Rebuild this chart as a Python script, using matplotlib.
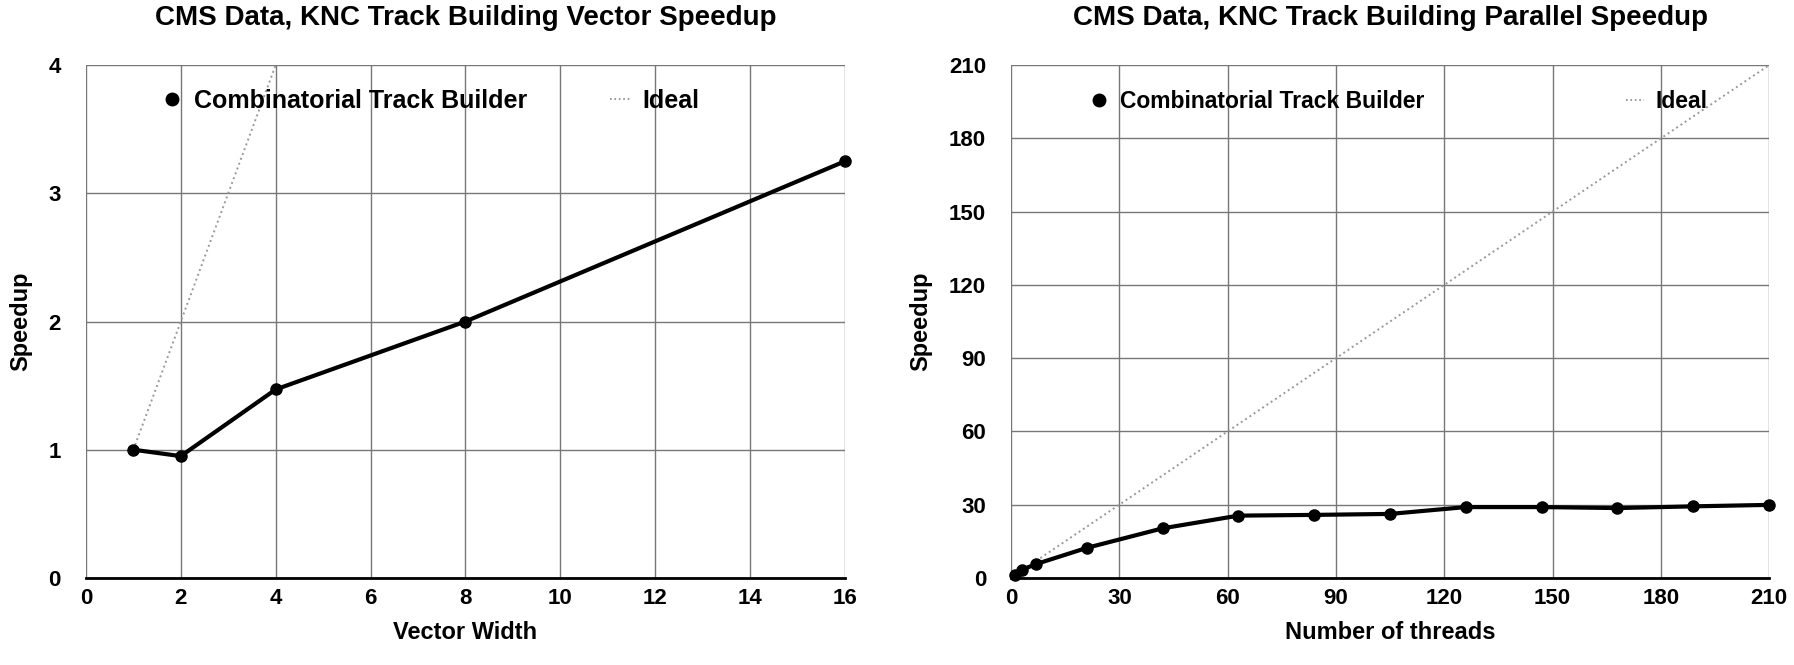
import matplotlib.pyplot as plt
from matplotlib.lines import Line2D

# ── data ──────────────────────────────────────────────────
vec_width   = [1, 2, 4, 8, 16]
vec_speedup = [1.0, 0.95, 1.47, 2.0, 3.25]
vec_ideal   = [1, 2, 4, 8, 16]

threads        = [1, 3, 7, 21, 42, 63, 84, 105, 126, 147, 168, 189, 210]
thread_speedup = [1.0, 3.3, 5.7, 12.3, 20.3, 25.5, 25.8, 26.2, 29.0, 29.0, 28.6, 29.3, 29.9]
thread_ideal   = [1, 210]

vec_xticks = list(range(0, 17, 2))
vec_yticks = [0, 1, 2, 3, 4]
thr_ticks  = list(range(0, 211, 30))

plt.rcParams['font.family'] = ['Liberation Sans', 'DejaVu Sans']
plt.rcParams['font.weight'] = 'bold'

fig = plt.figure(figsize=(17.94, 6.65), dpi=100)
ax1 = fig.add_axes([0.0479, 0.131, 0.423, 0.771])
ax2 = fig.add_axes([0.5636, 0.131, 0.4225, 0.771])


def style(ax, xticks, yticks, xlabel, title):
    ax.set_xticks(xticks)
    ax.set_yticks(yticks)
    ax.set_xlim(xticks[0], xticks[-1])
    ax.set_ylim(yticks[0], yticks[-1])
    ax.grid(True, color="#777777", linewidth=1.0)
    ax.set_axisbelow(True)
    for s in ["left", "top", "right"]:
        ax.spines[s].set_visible(False)
    ax.spines["bottom"].set_linewidth(2)
    ax.tick_params(length=0, labelsize=16)
    ax.tick_params(axis="x", pad=7)
    ax.tick_params(axis="y", pad=18)
    for lab in ax.get_xticklabels() + ax.get_yticklabels():
        lab.set_fontweight("bold")
    ax.set_xlabel(xlabel, fontsize=17, fontweight="bold", labelpad=9)
    ax.set_ylabel("Speedup", fontsize=17, fontweight="bold", labelpad=12)
    ax.set_title(title, fontsize=20, fontweight="bold", pad=29)


def legend(ax, anchor, spacing, size):
    h = [Line2D([], [], color="black", marker="o", markersize=9, linestyle="none"),
         Line2D([], [], color="#888888", linestyle=":", linewidth=1.2)]
    ax.legend(h, ["Combinatorial Track Builder", "Ideal"], ncol=2, frameon=False,
              loc="center left", bbox_to_anchor=anchor, handlelength=0.8,
              handletextpad=0.5, columnspacing=spacing,
              prop={"size": size, "weight": "bold"})


# ── vector speedup ────────────────────────────────────────
ax1.plot(vec_width, vec_ideal, color="#999999", linestyle=":", linewidth=1.4, zorder=2)
ax1.plot(vec_width, vec_speedup, color="black", linewidth=3, marker="o",
         markersize=8, zorder=3, clip_on=False)
style(ax1, vec_xticks, vec_yticks, "Vector Width",
      "CMS Data, KNC Track Building Vector Speedup")
legend(ax1, (0.07, 0.93), 3.3, 18)

# ── parallel speedup ──────────────────────────────────────
ax2.plot(thread_ideal, thread_ideal, color="#999999", linestyle=":", linewidth=1.4, zorder=2)
ax2.plot(threads, thread_speedup, color="black", linewidth=3, marker="o",
         markersize=8, zorder=3, clip_on=False)
style(ax2, thr_ticks, thr_ticks, "Number of threads",
      "CMS Data, KNC Track Building Parallel Speedup")
legend(ax2, (0.077, 0.93), 8.8, 16.5)

fig.savefig("out.png", dpi=100)
